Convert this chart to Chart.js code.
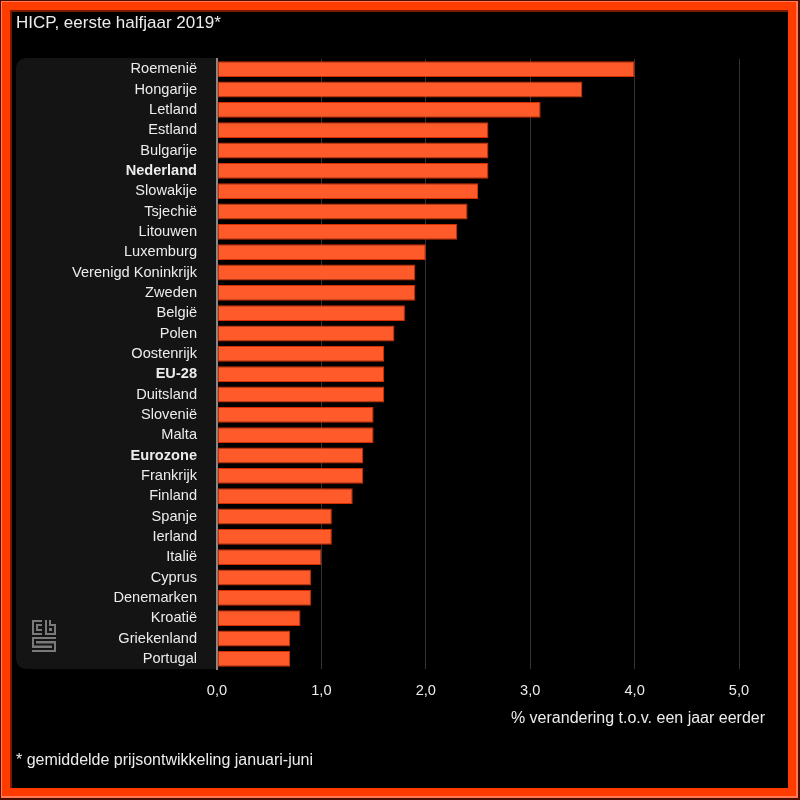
<!DOCTYPE html>
<html>
<head>
<meta charset="utf-8">
<style>
  html, body { margin: 0; padding: 0; background: #000; }
  #wrap { position: relative; width: 800px; height: 800px; }
  canvas { display: block; }
</style>
<script src="https://cdn.jsdelivr.net/npm/chart.js@4/dist/chart.umd.min.js"></script>
</head>
<body>
<div id="wrap"><canvas id="c" width="800" height="800"></canvas></div>
<script>
const titleText = 'HICP, eerste halfjaar 2019*';
const footnoteText = '* gemiddelde prijsontwikkeling januari-juni';
const axisTitleText = '% verandering t.o.v. een jaar eerder';

const categories = [
  'Roemenië', 'Hongarije', 'Letland', 'Estland', 'Bulgarije', 'Nederland',
  'Slowakije', 'Tsjechië', 'Litouwen', 'Luxemburg', 'Verenigd Koninkrijk',
  'Zweden', 'België', 'Polen', 'Oostenrijk', 'EU-28', 'Duitsland', 'Slovenië',
  'Malta', 'Eurozone', 'Frankrijk', 'Finland', 'Spanje', 'Ierland', 'Italië',
  'Cyprus', 'Denemarken', 'Kroatië', 'Griekenland', 'Portugal'
];
const values = [
  4.0, 3.5, 3.1, 2.6, 2.6, 2.6,
  2.5, 2.4, 2.3, 2.0, 1.9,
  1.9, 1.8, 1.7, 1.6, 1.6, 1.6, 1.5,
  1.5, 1.4, 1.4, 1.3, 1.1, 1.1, 1.0,
  0.9, 0.9, 0.8, 0.7, 0.7
];
const boldCategories = ['Nederland', 'EU-28', 'Eurozone'];
const xTicks = [0, 1, 2, 3, 4, 5];

const FONT = '"Liberation Sans", Arial, sans-serif';
const TEXT = '#ececec';
const PANEL = '#141414';

const framePlugin = {
  id: 'frame',
  beforeDraw(chart) {
    const ctx = chart.ctx;
    const W = chart.width, H = chart.height;
    ctx.save();
    ctx.fillStyle = '#4a0d00';
    ctx.fillRect(0, 0, W, H);
    ctx.fillStyle = '#ff7a55';
    ctx.fillRect(1, 1, W - 3, H - 3);
    ctx.fillStyle = '#ff3c00';
    ctx.fillRect(2, 2, W - 6, H - 6);
    ctx.fillStyle = '#7a1a00';
    ctx.fillRect(10, 10, W - 22, H - 22);
    ctx.fillStyle = '#000';
    ctx.fillRect(12, 12, W - 24, H - 24);
    const a = chart.chartArea;
    ctx.fillStyle = PANEL;
    ctx.beginPath();
    ctx.roundRect(16, a.top - 1, a.left - 16, a.bottom - a.top + 1, [10, 0, 0, 10]);
    ctx.fill();
    ctx.restore();
  },
  afterDraw(chart) {
    const ctx = chart.ctx;
    ctx.save();
    ctx.fillStyle = TEXT;
    ctx.textBaseline = 'alphabetic';
    ctx.font = '17px ' + FONT;
    ctx.textAlign = 'left';
    ctx.fillText(titleText, 16, 28);
    ctx.font = '16px ' + FONT;
    ctx.fillText(footnoteText, 16, 765);
    ctx.textAlign = 'right';
    ctx.fillText(axisTitleText, 765, 723);
    // cbs logo: thick centre-line strokes hollowed out
    const logo = (c) => {
      c.beginPath();
      // c
      c.moveTo(42, 623); c.lineTo(35, 623); c.lineTo(35, 632); c.lineTo(42, 632);
      // b
      c.moveTo(48, 620); c.lineTo(48, 632); c.lineTo(53, 632); c.lineTo(53, 627); c.lineTo(48, 627);
      // s
      c.moveTo(56, 640); c.lineTo(35, 640); c.lineTo(35, 644.5); c.lineTo(53, 644.5);
      c.lineTo(53, 649); c.lineTo(32, 649);
    };
    ctx.lineJoin = 'miter';
    ctx.lineCap = 'butt';
    ctx.strokeStyle = '#7a7a7a';
    ctx.lineWidth = 6;
    logo(ctx); ctx.stroke();
    ctx.strokeStyle = PANEL;
    ctx.lineWidth = 2;
    logo(ctx); ctx.stroke();
    ctx.restore();
  }
};

new Chart(document.getElementById('c'), {
  type: 'bar',
  data: {
    labels: categories,
    datasets: [{
      data: values,
      backgroundColor: '#ff5a2a',
      borderColor: '#d42e00',
      borderWidth: 1,
      borderSkipped: false,
      barPercentage: 0.78,
      categoryPercentage: 1
    }]
  },
  options: {
    indexAxis: 'y',
    responsive: false,
    animation: false,
    devicePixelRatio: 1,
    layout: { padding: { left: 0, right: 61, top: 59, bottom: 61 } },
    plugins: {
      legend: { display: false },
      title: { display: false },
      tooltip: { enabled: false }
    },
    scales: {
      x: {
        min: 0,
        max: 5,
        afterBuildTicks(scale) { scale.ticks = xTicks.map(v => ({ value: v })); },
        afterFit(scale) { scale.height = 70; },
        grid: { color: '#333333', lineWidth: 1, drawTicks: false },
        border: { display: false },
        ticks: {
          color: TEXT,
          font: { family: FONT, size: 14.6 },
          padding: 13,
          callback: v => Number(v).toFixed(1).replace('.', ',')
        }
      },
      y: {
        afterFit(scale) { scale.width = 217; },
        grid: { display: false, drawTicks: false },
        border: { display: true, color: '#8a8a8a', width: 2 },
        ticks: {
          color: TEXT,
          padding: 20,
          autoSkip: false,
          font: ctx => ({
            family: FONT,
            size: 14.6,
            weight: boldCategories.includes(categories[ctx.index]) ? 'bold' : 'normal'
          })
        }
      }
    }
  },
  plugins: [framePlugin]
});
</script>
</body>
</html>
